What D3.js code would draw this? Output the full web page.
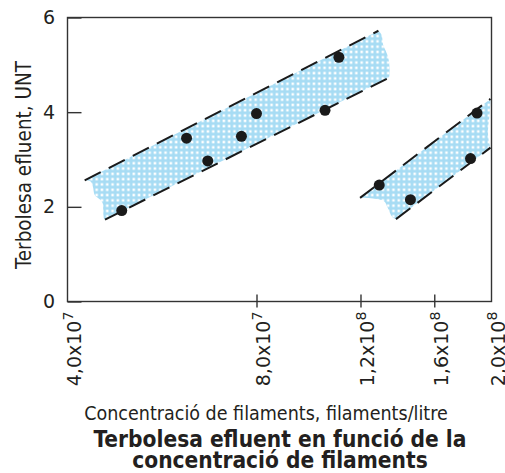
<!DOCTYPE html>
<html>
<head>
<meta charset="utf-8">
<script src="https://cdn.jsdelivr.net/npm/d3@7"></script>
<style>
  body { margin: 0; background: #fff; }
  svg text { font-family: "DejaVu Sans Condensed", "DejaVu Sans", sans-serif; fill: #231f20; }
  svg .tick text { font-family: "DejaVu Sans", sans-serif; }
</style>
</head>
<body>
<div id="chart"></div>
<script>
// data
var xTicks = [4e7, 8e7, 1.2e8, 1.6e8, 2e8];
var xTickMant = ["4,0", "8,0", "1,2", "1,6", "2,0"];
var xTickExp = ["7", "7", "8", "8", "8"];
var yTicks = [0, 2, 4, 6];

var pointsX = [4.88e7, 6.19e7, 6.69e7, 7.57e7, 8.0e7, 1.045e8, 1.103e8, 1.291e8, 1.458e8, 1.843e8, 1.89e8];
var pointsY = [1.92, 3.45, 2.97, 3.49, 3.97, 4.04, 5.16, 2.46, 2.15, 3.02, 3.98];

// band 1 (left) : dashed limits + ragged ends of the shading
var band1Upper = [[4.26e7, 2.56], [1.287e8, 5.72]];
var band1Lower = [[4.59e7, 1.73], [1.337e8, 4.72]];
var band1Right = [[1.303e8, 5.63], [1.311e8, 5.42], [1.329e8, 5.25], [1.341e8, 5.07], [1.342e8, 4.75]];
var band1Left = [[4.57e7, 1.76], [4.56e7, 1.94], [4.55e7, 2.08], [4.51e7, 2.15], [4.42e7, 2.25], [4.39e7, 2.43], [4.35e7, 2.54]];

// band 2 (right)
var band2Upper = [[1.198e8, 2.19], [1.992e8, 4.28]];
var band2Lower = [[1.378e8, 1.74], [1.992e8, 3.25]];
var band2Right = [[1.985e8, 3.94], [1.973e8, 3.63], [1.977e8, 3.42]];
var band2Left = [[1.359e8, 1.78], [1.333e8, 1.99], [1.315e8, 2.12]];

//// chart
var margin = {top: 17.5, left: 67.5},
    width = 424,
    height = 284;

var svg = d3.select("#chart")
  .append("svg")
    .attr("width", 505)
    .attr("height", 473);

var defs = svg.append("defs");
var pat = defs.append("pattern")
    .attr("id", "dots")
    .attr("patternUnits", "userSpaceOnUse")
    .attr("width", 5.3)
    .attr("height", 5.3);
pat.append("rect").attr("width", 5.3).attr("height", 5.3).attr("fill", "#a7dcf4");
pat.append("rect").attr("x", 1.4).attr("y", 1.4).attr("width", 2.5).attr("height", 2.5).attr("fill", "#fff");

var g = svg.append("g")
    .attr("transform", "translate(" + margin.left + "," + margin.top + ")");

// log scale, piecewise so the 4,0x10^7 label sits on the frame like the original
var x = d3.scaleLog()
    .domain([4e7, 8e7, 2e8])
    .range([0, 189, width]);

var y = d3.scaleLinear()
    .domain([0, 6])
    .range([height, 0]);

var line = d3.line()
    .x(function(d) { return x(d[0]); })
    .y(function(d) { return y(d[1]); });

var wavy = d3.line()
    .x(function(d) { return x(d[0]); })
    .y(function(d) { return y(d[1]); })
    .curve(d3.curveCatmullRom);

// straight dashed sides, torn-looking ends
function outline(up, right, low, left) {
  return line(up)
    + wavy([up[1]].concat(right, [low[1]])).replace(/^M/, "L")
    + line([low[1], low[0]]).replace(/^M/, "L")
    + wavy([low[0]].concat(left, [up[0]])).replace(/^M/, "L")
    + "Z";
}

// shaded bands
g.append("path")
    .attr("d", outline(band1Upper, band1Right, band1Lower, band1Left))
    .attr("fill", "url(#dots)");
g.append("path")
    .attr("d", outline(band2Upper, band2Right, band2Lower, band2Left))
    .attr("fill", "url(#dots)");

// dashed limits
[band1Upper, band1Lower, band2Upper, band2Lower].forEach(function(l) {
  g.append("path")
      .attr("d", line(l))
      .attr("fill", "none")
      .attr("stroke", "#1a1a1a")
      .attr("stroke-width", 2)
      .attr("stroke-dasharray", "18,9");
});

// frame
g.append("rect")
    .attr("width", width)
    .attr("height", height)
    .attr("fill", "none")
    .attr("stroke", "#333")
    .attr("stroke-width", 1.4);

// x axis
var xAxis = g.append("g")
    .attr("transform", "translate(0," + height + ")")
    .call(d3.axisBottom(x)
      .tickValues(xTicks)
      .tickFormat(function() { return ""; })
      .tickSizeOuter(0));
xAxis.select(".domain").remove();
xAxis.selectAll(".tick line")
    .attr("y1", -7)
    .attr("y2", 6)
    .attr("stroke", "#333")
    .attr("stroke-width", 1.4)
    .attr("display", function(d, i) { return (i === 0 || i === xTicks.length - 1) ? "none" : null; });
xAxis.selectAll(".tick text").each(function(d, i) {
  var t = d3.select(this)
      .attr("transform", "rotate(-90)")
      .attr("x", -10)
      .attr("y", 13)
      .attr("dy", 0)
      .attr("text-anchor", "end")
      .attr("font-size", 19)
      .attr("fill", "#231f20");
  t.append("tspan").text(xTickMant[i] + "x10");
  t.append("tspan").attr("dy", "-0.55em").attr("font-size", "0.75em").text(xTickExp[i]);
});

// y axis
var yAxis = g.append("g")
    .call(d3.axisLeft(y)
      .tickValues(yTicks)
      .tickSize(-14)
      .tickPadding(12.5)
      .tickFormat(d3.format("d")));
yAxis.select(".domain").remove();
yAxis.selectAll(".tick line")
    .attr("stroke", "#333")
    .attr("stroke-width", 1.4);
yAxis.selectAll(".tick text")
    .attr("font-size", 19)
    .attr("fill", "#231f20");

// dots
g.selectAll(".dots")
    .data(pointsX)
    .enter()
    .append("circle")
    .attr("class", "dots")
    .attr("r", 5.5)
    .attr("fill", "#1a1a1a")
    .attr("cx", function(d) { return x(d); })
    .attr("cy", function(d, i) { return y(pointsY[i]); });

// labels
svg.append("text")
    .attr("transform", "translate(31,165) rotate(-90)")
    .attr("text-anchor", "middle")
    .attr("font-size", 20.5)
    .text("Terbolesa efluent, UNT");

svg.append("text")
    .attr("x", 266)
    .attr("y", 420)
    .attr("text-anchor", "middle")
    .attr("font-size", 19.5)
    .text("Concentració de filaments, filaments/litre");

svg.append("text")
    .attr("x", 280)
    .attr("y", 447)
    .attr("text-anchor", "middle")
    .attr("font-size", 22.5)
    .attr("font-weight", "bold")
    .text("Terbolesa efluent en funció de la");

svg.append("text")
    .attr("x", 280)
    .attr("y", 468)
    .attr("text-anchor", "middle")
    .attr("font-size", 22.5)
    .attr("font-weight", "bold")
    .text("concentració de filaments");
</script>
</body>
</html>
